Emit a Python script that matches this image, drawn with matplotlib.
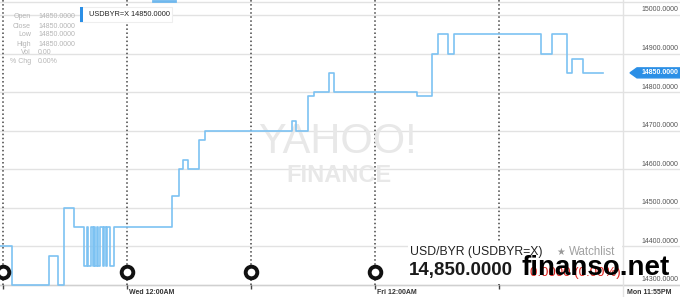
import matplotlib
matplotlib.use("Agg")
import matplotlib.pyplot as plt
from matplotlib.patches import Rectangle, Polygon

plt.rcParams['font.family'] = ['Liberation Sans', 'DejaVu Sans']

# step changes of USD/BYR, hours of trading time from Tue 12:00AM
hours = [-0.58, 1.74, 8.9, 10.65, 11.81, 13.74, 15.68, 16.2, 16.5, 17.1, 17.4,
         17.6, 17.9, 18.1, 18.4, 18.8, 19.3, 19.5, 19.9, 20.2, 20.7, 21.4,
         32.8, 34.0, 34.9, 35.9, 37.9, 39.0, 56.0, 56.8, 59.0, 60.1, 63.1,
         64.1, 80.1, 83.1, 84.1, 86.1, 87.2, 104.1, 106.3, 109.1, 110.1,
         112.2, 116.2]
prices = [14400, 14300, 14375, 14300, 14500, 14450, 14350, 14450, 14350, 14450,
          14350, 14450, 14350, 14450, 14350, 14450, 14350, 14450, 14350, 14450,
          14350, 14450, 14530, 14600, 14625, 14600, 14675, 14700, 14725, 14700,
          14790, 14800, 14850, 14800, 14790, 14900, 14950, 14900, 14950, 14900,
          14950, 14850, 14885, 14850, 14850]

y_ticks = [14300, 14400, 14500, 14600, 14700, 14800, 14900, 15000]
day_lines = [0, 24, 48, 72, 96]
event_hours = [0, 24, 48, 72]
time_labels = ['Wed 12:00AM', 'Fri 12:00AM']
time_label_hours = [24, 72]
last_price = 14850
info_names = ['Open', 'Close', 'Low', 'High', 'Vol', '% Chg']
info_values = ['14850.0000', '14850.0000', '14850.0000', '14850.0000', '0.00', '0.00%']

W, H = 680, 297
fig = plt.figure(figsize=(W / 100, H / 100), dpi=100)
ax = fig.add_axes([0, 0, 1, 1])
ax.set_xlim(-0.58, 131.03)
ax.set_ylim(14268.9, 15038.9)
ax.axis('off')


def fx(x):
    return x / W


def fy(y):
    return 1 - y / H


# grid
for v in y_ticks:
    ax.axhline(v, color='#e2e2e2', lw=1, zorder=1)
ax.axhline(14300, color='#d0d0d0', lw=1, zorder=1)
ax.axvline(120, color='#e2e2e2', lw=1, zorder=1)
ax.plot([0, 1], [fy(2), fy(2)], transform=ax.transAxes, color='#e2e2e2', lw=1)
ax.plot([fx(153), fx(175)], [fy(1), fy(1)], transform=ax.transAxes, color='#6fb8ee', lw=2)

ax.vlines(day_lines, 14300, 15040, colors='#444444', linestyles=':', lw=1.1, zorder=2)
ax.vlines(day_lines, 14289, 14300, colors='#444444', lw=1, zorder=2)

# price line
ax.step(hours, prices, where='post', color='#7dc2f2', lw=1.2, zorder=3)

# event markers
ax.scatter(event_hours, [14334] * len(event_hours), s=70, facecolor='white',
           edgecolor='#111111', linewidth=2.8, zorder=6)

# right axis labels
for v in y_ticks:
    ax.text(fx(678), v + 4, '%.4f' % v, transform=ax.get_yaxis_transform(),
            ha='right', va='bottom', fontsize=5, color='#555555')

# last price callout
yl = ax.transData.transform((0, last_price))[1] / H
ax.add_patch(Polygon([[fx(630), yl], [fx(637), yl + 5 / H], [fx(680), yl + 5 / H],
                      [fx(680), yl - 5 / H], [fx(637), yl - 5 / H]],
                     closed=True, transform=ax.transAxes, color='#2b8fe6', zorder=5))
ax.text(fx(678), yl, '%.4f' % last_price, transform=ax.transAxes, ha='right',
        va='center', fontsize=5, color='white', fontweight='bold', zorder=6)

# time labels
for h, lab in zip(time_label_hours, time_labels):
    ax.text(h + 0.4, fy(292), lab, transform=ax.get_xaxis_transform(), ha='left',
            va='center', fontsize=5, color='#333333', fontweight='bold')
ax.text(fx(627), fy(292), 'Mon 11:55PM', transform=ax.transAxes, ha='left',
        va='center', fontsize=5, color='#333333', fontweight='bold')

# watermark
ax.text(fx(338), fy(142), 'YAHOO!', transform=ax.transAxes, ha='center', va='center',
        fontsize=30, color='#e8e8e8', zorder=2)
ax.text(fx(339), fy(175), 'FINANCE', transform=ax.transAxes, ha='center', va='center',
        fontsize=17, color='#e8e8e8', fontweight='bold', zorder=2)

# info panel
for i, (n, v) in enumerate(zip(info_names, info_values)):
    yy = fy(17 + i * 9)
    ax.text(fx(31), yy, n, transform=ax.transAxes, ha='right', va='center',
            fontsize=5, color='#b5b5b5')
    ax.text(fx(38), yy, v, transform=ax.transAxes, ha='left', va='center',
            fontsize=5, color='#b5b5b5')

# legend box
ax.add_patch(Rectangle((fx(80), fy(22)), fx(92), 15 / H, transform=ax.transAxes,
                       facecolor='white', edgecolor='#eeeeee', lw=0.8, zorder=5))
ax.add_patch(Rectangle((fx(80), fy(22)), fx(2.5), 15 / H, transform=ax.transAxes,
                       facecolor='#2b8fe6', edgecolor='none', zorder=6))
ax.text(fx(89), fy(14.5), 'USDBYR=X 14850.0000', transform=ax.transAxes, ha='left',
        va='center', fontsize=5.3, color='#222222', zorder=7)

# quote panel
ax.add_patch(Rectangle((fx(408), fy(284)), fx(214), 43 / H, transform=ax.transAxes,
                       facecolor='white', edgecolor='none', zorder=4))
ax.text(fx(410), fy(252), 'USD/BYR (USDBYR=X)', transform=ax.transAxes, ha='left',
        va='center', fontsize=8.8, color='#222222', zorder=7)
ax.text(fx(556), fy(252), '\u2605', transform=ax.transAxes, ha='left', va='center',
        fontsize=7, color='#999999', family=['DejaVu Sans'], zorder=7)
ax.text(fx(569), fy(252), 'Watchlist', transform=ax.transAxes, ha='left', va='center',
        fontsize=8.3, color='#a0a0a0', zorder=7)
ax.text(fx(409), fy(271), '14,850.0000', transform=ax.transAxes, ha='left', va='center',
        fontsize=13.5, color='#1a1a1a', fontweight='bold', zorder=7)
ax.text(fx(530), fy(273), '0.0000 (0.00%)', transform=ax.transAxes, ha='left',
        va='center', fontsize=9.5, color='#e0201b', zorder=7)
ax.text(fx(521), fy(268), 'finanso.net', transform=ax.transAxes, ha='left', va='center',
        fontsize=20, color='black', fontweight='bold', zorder=8)

fig.savefig('out.png', dpi=100)
